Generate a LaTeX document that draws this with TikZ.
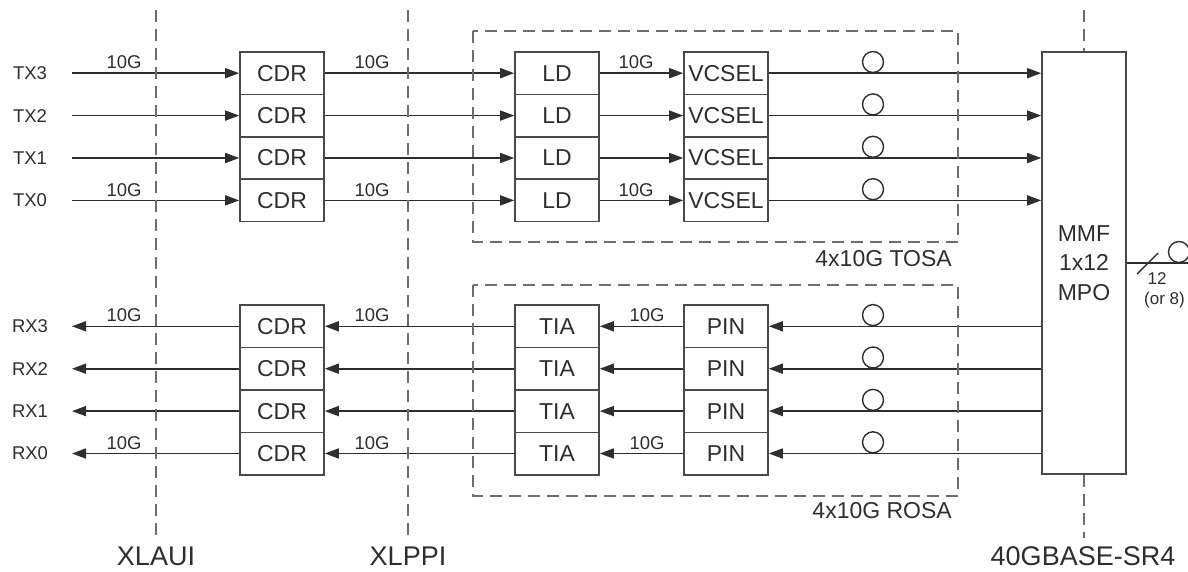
\documentclass[tikz,border=0pt]{standalone}
\usepackage{fontspec}
\setmainfont{Liberation Sans}
\usetikzlibrary{arrows.meta}
\definecolor{ink}{HTML}{2E2E2E}
\definecolor{boxc}{HTML}{4A4A4A}
\definecolor{dashc}{HTML}{6E6E6E}
\begin{document}
\begin{tikzpicture}[x=1pt,y=-1pt,
  blk/.style={draw=boxc,line width=1.6pt,minimum width=84pt,minimum height=42.4pt,inner sep=0pt,text=ink,font=\fontsize{23}{24}\selectfont},
  sig/.style={draw=ink,line width=1.6pt,-{Triangle[length=14pt,width=10pt]}},
  wire/.style={draw=ink,line width=1.6pt},
  rate/.style={text=ink,font=\fontsize{18.5}{19}\selectfont,inner sep=0pt},
  port/.style={text=ink,font=\fontsize{18.5}{19}\selectfont,inner sep=0pt},
  bigl/.style={text=ink,font=\fontsize{27}{28}\selectfont,inner sep=0pt},
  grp/.style={text=ink,font=\fontsize{23}{24}\selectfont,inner sep=0pt,anchor=east},
  ifline/.style={draw=dashc,line width=1.8pt,dash pattern=on 12pt off 7pt},
  dashbox/.style={draw=dashc,line width=1.8pt,dash pattern=on 12pt off 7pt},
  fib/.style={circle,draw=ink,line width=1.4pt,minimum size=21pt,inner sep=0pt}]
\useasboundingbox (0,0) rectangle (1188,572);
% MPO
\node[blk,minimum height=422pt,align=center,font=\fontsize{23}{29.5}\selectfont] (mpo) at (1084,263) {MMF\\1x12\\MPO};
% TX rows
\foreach \i/\y in {3/73.2,2/115.6,1/158.0,0/200.4}{
  \node[port] (tx\i) at (30,\y) {TX\i};
  \coordinate (ts\i) at (72,\y);
  \node[blk] (cdrT\i) at (282,\y) {CDR};
  \node[blk] (ld\i) at (557,\y) {LD};
  \node[blk] (vc\i) at (726,\y) {VCSEL};
  \node[fib] (ft\i) at (873,\y-11.2) {};
  \draw[sig] (ts\i) -- (cdrT\i.west);
  \draw[sig] (cdrT\i.east) -- (ld\i.west);
  \draw[sig] (ld\i.east) -- (vc\i.west);
  \draw[sig] (vc\i.east) -- (mpo.west |- vc\i.east);
}
% RX rows
\foreach \i/\y in {3/326.3,2/368.7,1/411.1,0/453.5}{
  \node[port] (rx\i) at (30,\y) {RX\i};
  \coordinate (rs\i) at (72,\y);
  \node[blk] (cdrR\i) at (282,\y) {CDR};
  \node[blk] (tia\i) at (557,\y) {TIA};
  \node[blk] (pin\i) at (726,\y) {PIN};
  \node[fib] (fr\i) at (873,\y-11.2) {};
  \draw[sig] (mpo.west |- pin\i.east) -- (pin\i.east);
  \draw[sig] (pin\i.west) -- (tia\i.east);
  \draw[sig] (tia\i.west) -- (cdrR\i.east);
  \draw[sig] (cdrR\i.west) -- (rs\i);
}
% rate labels
\foreach \x in {124,372}{
  \node[rate] at (\x,62) {10G};
  \node[rate] at (\x,190) {10G};
  \node[rate] at (\x,315) {10G};
  \node[rate] at (\x,443) {10G};
}
\node[rate] at (636,62) {10G};
\node[rate] at (636,190) {10G};
\node[rate] at (647,315) {10G};
\node[rate] at (647,443) {10G};
% TOSA / ROSA
\draw[dashbox] (473,31) rectangle (958,242);
\node[grp] (tosa) at (952,259) {4x10G TOSA};
\draw[dashbox] (473,285) rectangle (958,496);
\node[grp] (rosa) at (952,511) {4x10G ROSA};
% interface lines
\node[bigl] (xlaui) at (156,556) {XLAUI};
\node[bigl] (xlppi) at (408,556) {XLPPI};
\node[bigl] (sr4) at (1083,556) {40GBASE-SR4};
\coordinate (a0) at (156,10);
\coordinate (a1) at (156,538);
\coordinate (b0) at (408,10);
\coordinate (b1) at (408,538);
\coordinate (c0) at (1084,10);
\coordinate (c1) at (1084,538);
\draw[ifline] (a0) -- (a1);
\draw[ifline] (b0) -- (b1);
\draw[ifline] (c0) -- (mpo.north);
\draw[ifline] (mpo.south) -- (c1);
% output fibre
\coordinate (oe) at (1200,263);
\draw[wire] (mpo.east) -- (oe);
\coordinate (s0) at (1137,274);
\coordinate (s1) at (1158,253);
\draw[draw=ink,line width=1.4pt] (s0) -- (s1);
\node[fib] (fo) at (1179,252) {};
\node[rate,font=\fontsize{17}{18}\selectfont] (n12) at (1157,279) {12};
\node[rate,font=\fontsize{17}{18}\selectfont,anchor=west] (or8) at (1144,300) {(or 8)};
\end{tikzpicture}
\end{document}
